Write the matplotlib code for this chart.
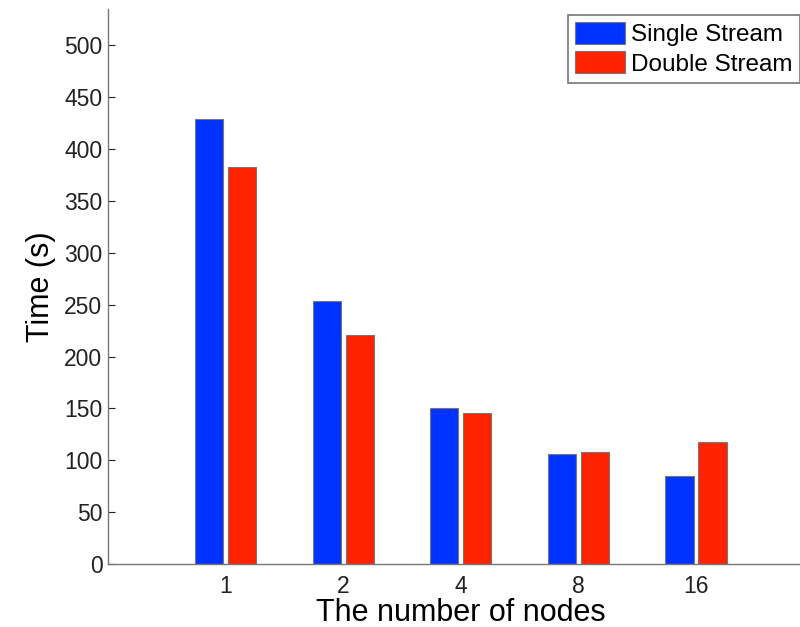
import matplotlib
matplotlib.use('Agg')
import matplotlib.pyplot as plt
import numpy as np

plt.rcParams['font.family'] = ['Liberation Sans', 'DejaVu Sans']

nodes = ['1', '2', '4', '8', '16']
single = [429, 254, 150, 106, 85]
double = [383, 221, 146, 108, 118]

fig = plt.figure(figsize=(8, 6.27), dpi=100)
ax = fig.add_axes([0.135, 0.1005, 0.882, 0.885])

x = np.arange(1, len(nodes) + 1)
w = 0.24
ax.bar(x - 0.14, single, w, color='#0033ff', edgecolor='#777777', linewidth=0.8,
       label='Single Stream')
ax.bar(x + 0.14, double, w, color='#ff2200', edgecolor='#777777', linewidth=0.8,
       label='Double Stream')

ax.set_xlim(0, 6)
ax.set_ylim(0, 535)
ax.set_xticks(x)
ax.set_xticklabels(nodes)
ax.set_yticks(np.arange(0, 501, 50))
ax.tick_params(direction='in', length=5, labelsize=16.5, colors='#222222', pad=4)
ax.tick_params(axis='x', length=0, pad=8)
for s in ['top', 'right']:
    ax.spines[s].set_visible(False)
for s in ['left', 'bottom']:
    ax.spines[s].set_color('#777777')
    ax.spines[s].set_linewidth(1.0)

ax.set_xlabel('The number of nodes', fontsize=22, labelpad=0)
ax.set_ylabel('Time (s)', fontsize=22, labelpad=6)

leg = ax.legend(loc='upper left', bbox_to_anchor=(568 / 800, 1 - 15 / 627),
                bbox_transform=fig.transFigure, borderaxespad=0, fontsize=17.5,
                handlelength=2.05, handleheight=1.0, handletextpad=0.25,
                labelspacing=0.2, borderpad=0.3, fancybox=False, framealpha=1)
leg.get_frame().set_edgecolor('#777777')
leg.get_frame().set_linewidth(1.2)

fig.savefig('out.png', dpi=100)
